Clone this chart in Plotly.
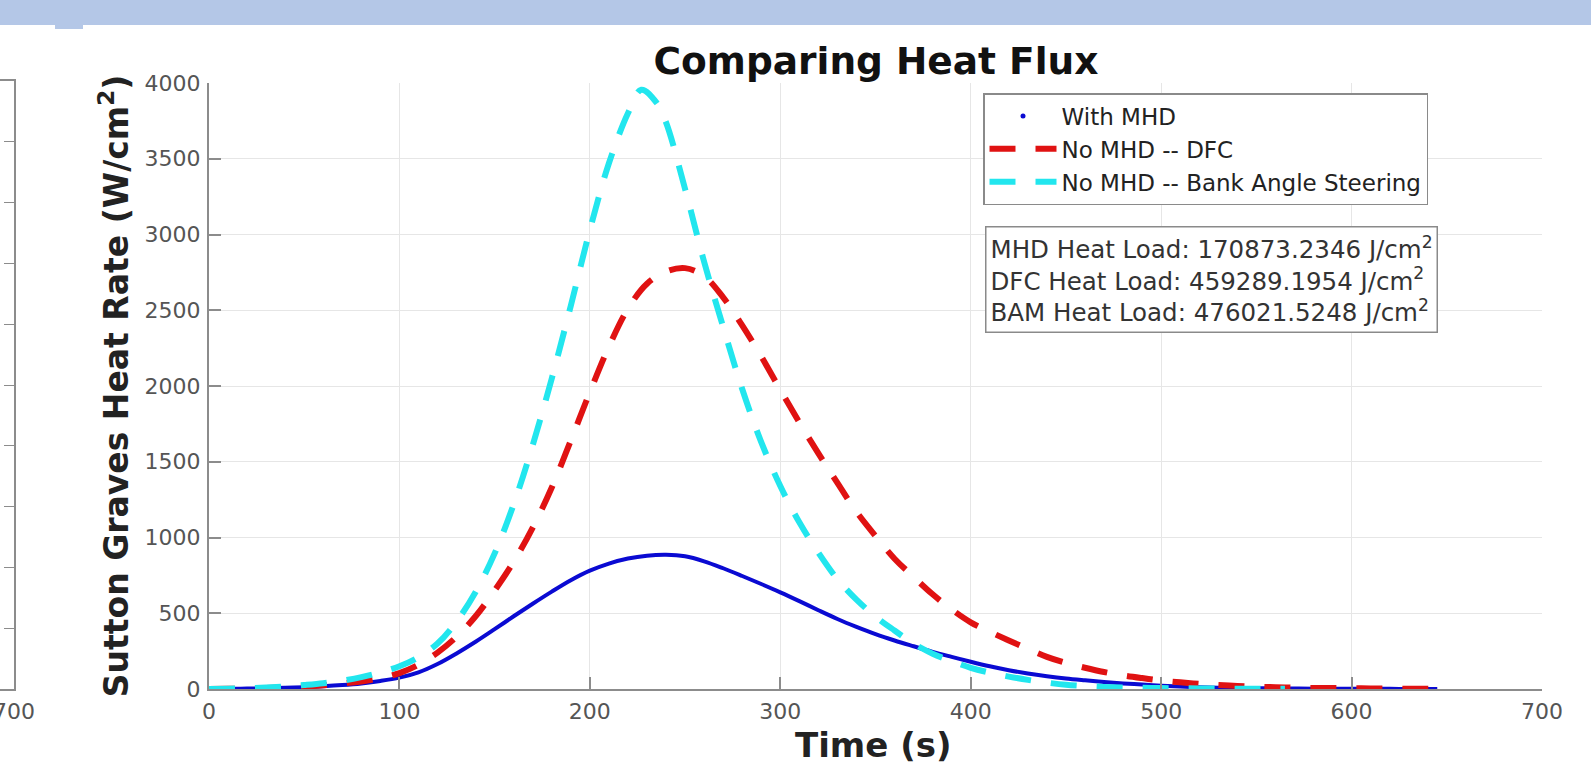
import plotly.graph_objects as go

W, H = 1591, 764
MB = 40  # bottom margin

# ---------------- data ----------------
time_mhd = [0, 10, 20, 30, 40, 50, 60, 70, 80, 90, 100, 110, 120, 130, 140, 150, 160, 170, 180, 190,
            200, 210, 220, 230, 240, 250, 260, 270, 280, 290, 300, 310, 320, 330, 340, 350, 360, 370,
            380, 390, 400, 410, 420, 430, 440, 450, 460, 470, 480, 490, 500, 510, 520, 530, 540, 550,
            560, 570, 580, 590, 600, 610, 620, 630, 640, 645]
heat_mhd = [0, 1, 3, 5, 8, 12, 18, 26, 37, 53, 75, 110, 165, 235, 312, 395, 480, 563, 643, 718,
            781, 828, 861, 880, 886, 876, 843, 797, 746, 693, 638, 580, 520, 462, 410, 362, 320, 282,
            245, 212, 180, 150, 124, 102, 84, 69, 57, 46, 37, 29, 22, 16, 12, 9, 7, 5,
            4, 3, 2, 2, 1, 1, 1, 0, 0, 0]

time_dfc = [0, 10, 20, 30, 40, 50, 60, 70, 80, 90, 100, 110, 120, 130, 140, 150, 160, 170, 180, 190,
            200, 210, 220, 230, 240, 250, 260, 270, 280, 290, 300, 310, 320, 330, 340, 350, 360, 370,
            380, 390, 400, 410, 420, 430, 440, 450, 460, 470, 480, 490, 500, 510, 520, 530, 540, 550,
            560, 570, 580, 590, 600, 610, 620, 630, 640, 647]
heat_dfc = [0, 1, 3, 6, 10, 16, 25, 36, 50, 72, 105, 160, 240, 345, 480, 650, 840, 1065, 1330, 1640,
            1960, 2260, 2510, 2675, 2755, 2778, 2725, 2585, 2400, 2195, 1975, 1760, 1555, 1360, 1170, 1010, 860, 740,
            625, 525, 440, 378, 320, 265, 212, 172, 140, 112, 90, 72, 56, 44, 34, 26, 20, 15,
            12, 9, 7, 6, 5, 4, 3, 2, 2, 2]

time_bas = [0, 10, 20, 30, 40, 50, 60, 70, 80, 90, 100, 110, 120, 130, 140, 150, 160, 170, 180, 190,
            200, 210, 220, 227, 235, 240, 250, 260, 270, 280, 290, 300, 310, 320, 330, 340, 350, 360, 370,
            380, 390, 400, 410, 420, 430, 440, 450, 460, 470, 480, 490, 500, 510, 520, 530, 540, 550, 565]
heat_bas = [0, 2, 5, 10, 16, 26, 38, 55, 78, 110, 150, 210, 300, 445, 640, 895, 1220, 1610, 2050, 2530,
            3030, 3470, 3800, 3955, 3870, 3740, 3300, 2820, 2390, 1980, 1630, 1340, 1100, 900, 725, 590, 478, 386, 300,
            233, 184, 140, 108, 82, 60, 42, 28, 20, 14, 10, 8, 6, 5, 4, 3, 2, 2, 1]

series_names = ["With MHD", "No MHD -- DFC", "No MHD -- Bank Angle Steering"]
heat_loads = [("MHD", "170873.2346"), ("DFC", "459289.1954"), ("BAM", "476021.5248")]
x_title = "Time (s)"
y_title = "Sutton Graves Heat Rate (W/cm<sup>2</sup>)"
chart_title = "Comparing Heat Flux"

x_ticks = [0, 100, 200, 300, 400, 500, 600, 700]
y_ticks = [0, 500, 1000, 1500, 2000, 2500, 3000, 3500, 4000]
left_panel_yticks = [1, 2, 3, 4, 5, 6, 7, 8, 9]

# ---------------- styling ----------------
FONT = "DejaVu Sans"
BLUE = "#0a0ad2"
RED = "#e01212"
CYAN = "#22e6ee"
AXC = "#8c8c8c"
GRID = "#e6e6e6"

def px_x(p):
    return p / W

def px_y(p):
    # paper y for a pixel row, paper area spans rows 0 .. H-MB
    return (H - MB - p) / (H - MB)

fig = go.Figure()

# With MHD (solid line; legend shows a dot marker)
fig.add_trace(go.Scatter(x=time_mhd, y=heat_mhd, mode="lines", line=dict(color=BLUE, width=4, shape="spline", smoothing=1.0),
                         showlegend=False, legendgroup="mhd", hoverinfo="skip"))
fig.add_trace(go.Scatter(x=[None], y=[None], mode="markers", marker=dict(color=BLUE, size=5),
                         name=series_names[0], legendgroup="mhd"))
fig.add_trace(go.Scatter(x=time_dfc, y=heat_dfc, mode="lines", name=series_names[1],
                         line=dict(color=RED, width=6, dash="26px,20px", shape="spline", smoothing=1.0)))
fig.add_trace(go.Scatter(x=time_bas, y=heat_bas, mode="lines", name=series_names[2],
                         line=dict(color=CYAN, width=6, dash="26px,20px", shape="spline", smoothing=1.0)))

# left partial panel (cut off at the left edge of the screenshot)
fig.add_trace(go.Scatter(x=[None], y=[None], xaxis="x2", yaxis="y2", showlegend=False))

ann_text = "<br>".join(f"{k} Heat Load: {v} J/cm<sup>2</sup>" for k, v in heat_loads)

fig.update_layout(
    width=W, height=H,
    margin=dict(l=0, r=0, t=0, b=MB),
    paper_bgcolor="white", plot_bgcolor="white",
    font=dict(family=FONT, color="#333333"),
    title=dict(text=f"<b>{chart_title}</b>", x=px_x(876), y=1 - 61 / H, xanchor="center", yanchor="middle",
               font=dict(family=FONT, size=37.5, color="#111111")),
    xaxis=dict(domain=[px_x(209), px_x(1542)], range=[0, 700], tickvals=x_ticks, ticks="inside", ticklen=12,
               tickwidth=1.5, tickcolor=AXC, showline=True, linecolor=AXC, linewidth=2, showgrid=True,
               gridcolor=GRID, gridwidth=1, zeroline=False, automargin=False,
               tickfont=dict(family=FONT, size=22, color="#555555"), ticklabelstandoff=2,
               anchor="y"),
    yaxis=dict(domain=[px_y(689), px_y(83)], range=[0, 4000], tickvals=y_ticks, ticks="inside", ticklen=12,
               tickwidth=1.5, tickcolor=AXC, showline=True, linecolor=AXC, linewidth=2, showgrid=True,
               gridcolor=GRID, gridwidth=1, zeroline=False, automargin=False,
               tickfont=dict(family=FONT, size=22, color="#555555"), ticklabelstandoff=2,
               title=dict(text=f"<b>{y_title}</b>",
                          font=dict(family=FONT, size=33, color="#222222"), standoff=6),
               anchor="x"),
    xaxis2=dict(domain=[0, px_x(14)], range=[690, 700], tickvals=[700], ticks="inside", ticklen=10,
                tickcolor=AXC, showline=True, linecolor=AXC, linewidth=2, mirror=True, showgrid=False,
                zeroline=False, automargin=False, tickfont=dict(family=FONT, size=22, color="#555555"),
                ticklabelstandoff=2, ticklabeloverflow="allow", anchor="y2"),
    yaxis2=dict(domain=[px_y(689), px_y(81)], range=[0, 10], tickvals=left_panel_yticks, ticks="inside",
                ticklen=10, tickcolor=AXC, showline=True, linecolor=AXC, linewidth=2, side="right",
                showticklabels=False, showgrid=False, zeroline=False, automargin=False, anchor="x2"),
    legend=dict(x=px_x(983), y=px_y(93), xanchor="left", yanchor="top", bgcolor="white",
                bordercolor="#8a8a8a", borderwidth=1.5, font=dict(family=FONT, size=23, color="#222222"),
                tracegroupgap=0, itemwidth=67),
    annotations=[
        dict(text=ann_text, x=px_x(985), y=px_y(226), xref="paper", yref="paper", xanchor="left",
             yanchor="top", align="left", showarrow=False, bgcolor="white", bordercolor="#8a8a8a",
             borderwidth=1.5, borderpad=4, font=dict(family=FONT, size=24.5, color="#333333")),
        dict(text=f"<b>{x_title}</b>", x=px_x(874), y=px_y(745), xref="paper", yref="paper",
             xanchor="center", yanchor="middle", showarrow=False,
             font=dict(family=FONT, size=34, color="#222222")),
    ],
    shapes=[dict(type="rect", xref="paper", yref="paper", x0=0, x1=1, y0=px_y(25), y1=1.0,
                 fillcolor="#b4c7e7", line=dict(width=0), layer="above"),
            dict(type="rect", xref="paper", yref="paper", x0=px_x(55), x1=px_x(83), y0=px_y(29), y1=px_y(24),
                 fillcolor="#b4c7e7", line=dict(width=0), layer="above")],
)

fig.write_html("out.html", config={"displayModeBar": False},
               post_script="document.body.style.margin='0px';document.body.style.overflow='hidden';")
